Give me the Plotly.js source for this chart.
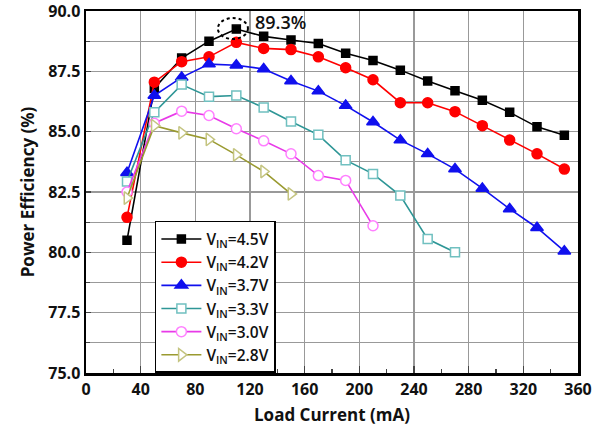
<!DOCTYPE html>
<html>
<head>
<meta charset="utf-8">
<script src="https://cdn.plot.ly/plotly-3.0.1.min.js"></script>
<style>html,body{margin:0;padding:0;background:#fff;}#chart{width:603px;height:428px;}</style>
</head>
<body>
<div id="chart"></div>
<script>
// Load current (mA)
const loadCurrent = [30, 50, 70, 90, 110, 130, 150, 170, 190, 210, 230, 250, 270, 290, 310, 330, 350];
// Efficiency (%) per input voltage
const eff45 = [80.5, 86.8, 88.05, 88.75, 89.25, 88.95, 88.8, 88.65, 88.25, 87.95, 87.55, 87.1, 86.7, 86.3, 85.8, 85.2, 84.85];
const eff42 = [81.45, 87.05, 87.9, 88.1, 88.7, 88.45, 88.4, 88.1, 87.65, 87.15, 86.2, 86.2, 85.83, 85.25, 84.65, 84.08, 83.45];
const eff37 = [83.3, 86.5, 87.25, 87.8, 87.75, 87.6, 87.1, 86.68, 86.08, 85.4, 84.65, 84.08, 83.45, 82.65, 81.8, 81.02, 80.05];
const eff33 = [82.93, 85.8, 86.95, 86.45, 86.5, 86.0, 85.42, 84.87, 83.82, 83.25, 82.35, 80.55, 80.0];
const eff30 = [82.5, 85.35, 85.85, 85.67, 85.12, 84.62, 84.08, 83.18, 82.98, 81.1];
const eff28 = [82.25, 85.25, 84.95, 84.68, 84.04, 83.35, 82.42];
const seriesNames = ["V<sub>IN</sub>=4.5V", "V<sub>IN</sub>=4.2V", "V<sub>IN</sub>=3.7V", "V<sub>IN</sub>=3.3V", "V<sub>IN</sub>=3.0V", "V<sub>IN</sub>=2.8V"];
const yTicks = [75, 77.5, 80, 82.5, 85, 87.5, 90];
const yTickText = ["75.0", "77.5", "80.0", "82.5", "85.0", "87.5", "90.0"];
const xTicks = [0, 40, 80, 120, 160, 200, 240, 280, 320, 360];
const peakLabel = "89.3%";

const FONT = "Open Sans, Arial, sans-serif";

function mk(y, name, lineColor, symbol, mSize, mFill, mLine) {
  return {
    x: loadCurrent.slice(0, y.length), y: y, name: name,
    type: "scatter", mode: "lines+markers",
    line: {color: lineColor, width: 1.6},
    marker: {symbol: symbol, size: mSize, color: mFill, line: {color: mLine, width: 1.5}}
  };
}

const traces = [
  mk(eff45, seriesNames[0], "#000000", "square", 8, "#000000", "#000000"),
  mk(eff42, seriesNames[1], "#ff0000", "circle", 10, "#ff0000", "#ff0000"),
  mk(eff37, seriesNames[2], "#1010ee", "triangle-up", 11, "#1010ee", "#1010ee"),
  mk(eff33, seriesNames[3], "#2e9696", "square", 9, "#ffffff", "#70c0c0"),
  mk(eff30, seriesNames[4], "#e83ae8", "circle", 10, "#ffffff", "#ff80ff"),
  mk(eff28, seriesNames[5], "#9a9a30", "triangle-right", 11, "#ffffff", "#c4c480")
];

const layout = {
  width: 603, height: 428,
  margin: {l: 86, r: 25, t: 11, b: 55},
  paper_bgcolor: "#ffffff", plot_bgcolor: "#ffffff",
  font: {family: FONT, color: "#111111"},
  showlegend: true,
  legend: {
    x: 0.14, y: 0.42, xanchor: "left", yanchor: "top",
    bgcolor: "#ffffff", bordercolor: "#000000", borderwidth: 1.5,
    font: {family: FONT, size: 15.5, weight: 600, color: "#111111"},
    tracegroupgap: 0, itemwidth: 40
  },
  xaxis: {
    range: [0, 360], tickmode: "array", tickvals: xTicks,
    showgrid: true, gridcolor: "#999999", gridwidth: 1.2,
    zeroline: false,
    showline: true, linecolor: "#000000", linewidth: 2.5, mirror: true,
    ticks: "inside", ticklen: 7, tickwidth: 1.5, tickcolor: "#444444",
    minor: {dtick: 20, tick0: 0, ticks: "inside", ticklen: 4, tickwidth: 1.2, tickcolor: "#444444", showgrid: false},
    tickfont: {family: FONT, size: 16, weight: "bold", color: "#111111"},
    ticklabeloverflow: "allow",
    title: {text: "Load Current (mA)", font: {family: FONT, size: 17, weight: "bold", color: "#111111"}, standoff: 11}
  },
  yaxis: {
    range: [75, 90], tickmode: "array", tickvals: yTicks, ticktext: yTickText,
    showgrid: true, gridcolor: "#999999", gridwidth: 1.2,
    zeroline: false,
    showline: true, linecolor: "#000000", linewidth: 2.5, mirror: true,
    ticks: "inside", ticklen: 5, tickwidth: 1.2, tickcolor: "#444444",
    minor: {dtick: 1.25, tick0: 75, ticks: "inside", ticklen: 4, tickwidth: 1.2, tickcolor: "#444444", showgrid: true, gridcolor: "#999999", gridwidth: 1.2},
    tickfont: {family: FONT, size: 16, weight: "bold", color: "#111111"},
    ticklabeloverflow: "allow",
    title: {text: "Power Efficiency (%)", font: {family: FONT, size: 17, weight: "bold", color: "#111111"}, standoff: 10}
  },
  shapes: [{
    type: "circle", xref: "x", yref: "y",
    x0: 96.5, x1: 118.5, y0: 88.84, y1: 89.71,
    line: {color: "#000000", width: 2, dash: "dot"}
  }],
  annotations: [{
    x: 142, y: 89.55, xref: "x", yref: "y",
    text: peakLabel, showarrow: false,
    font: {family: FONT, size: 18, weight: 600, color: "#111111"}
  }]
};

Plotly.newPlot("chart", traces, layout, {displayModeBar: false, staticPlot: true});
</script>
</body>
</html>
